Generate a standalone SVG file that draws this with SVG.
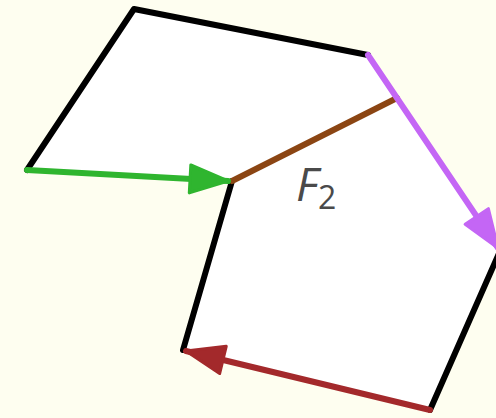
<svg xmlns="http://www.w3.org/2000/svg" width="496" height="418" viewBox="0 0 496 418">
<style>
.edge{fill:none;stroke-width:6;stroke-linecap:round;stroke-linejoin:round}
.lbl{font-family:"Open Sans","Liberation Sans",sans-serif;fill:#4a4a4a}
</style>
<defs>
<marker id="ag" markerUnits="userSpaceOnUse" markerWidth="44" markerHeight="36" refX="40" refY="16" orient="auto" viewBox="0 0 44 32"><path d="M2,2 L40,16 L2,30 Z" fill="#2fb52f" stroke="#2fb52f" stroke-width="3" stroke-linejoin="round"/></marker>
<marker id="ap" markerUnits="userSpaceOnUse" markerWidth="44" markerHeight="36" refX="40" refY="16" orient="auto" viewBox="0 0 44 32"><path d="M2,2 L40,16 L2,30 Z" fill="#c466f5" stroke="#c466f5" stroke-width="3" stroke-linejoin="round"/></marker>
<marker id="ar" markerUnits="userSpaceOnUse" markerWidth="44" markerHeight="36" refX="40" refY="16" orient="auto" viewBox="0 0 44 32"><path d="M2,2 L40,16 L2,30 Z" fill="#a3292b" stroke="#a3292b" stroke-width="3" stroke-linejoin="round"/></marker>
</defs>
<rect width="496" height="418" fill="#fefef0"/>
<g id="face">
<polygon points="27,170 134,9 368,55 500,251 430,410 183,350 232,181" fill="#ffffff"/>
</g>
<g id="connectors">
<path class="edge" stroke="#000" d="M27,170 L134,9 L368,55"/>
<path class="edge" stroke="#000" d="M500,251 L430,410"/>
<path class="edge" stroke="#000" d="M183,350 L232,181"/>
<path class="edge" stroke="#8b4513" d="M232,181 L397,98"/>
<path class="edge" stroke="#2fb52f" d="M27,170 L228,181" marker-end="url(#ag)"/>
<path class="edge" stroke="#c466f5" d="M368,55 L498,248" marker-end="url(#ap)"/>
<path class="edge" stroke="#a3292b" d="M430,410 L186,351" marker-end="url(#ar)"/>
</g>
<g id="label">
<text class="lbl" x="296" y="201" font-size="46" font-style="italic">F<tspan font-size="32" font-style="normal" dy="8">2</tspan></text>
</g>
</svg>
